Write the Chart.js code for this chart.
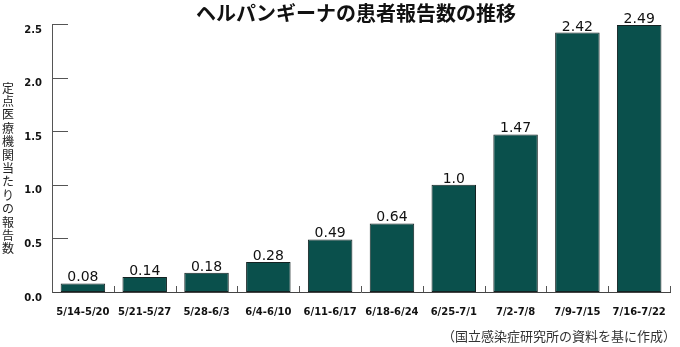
<!DOCTYPE html>
<html>
<head>
<meta charset="utf-8">
<style>
  html, body { margin: 0; padding: 0; background: #fff; }
  #wrap { width: 680px; height: 347px; position: relative; }
</style>
</head>
<body>
<div id="wrap"><canvas id="chart" width="680" height="347"></canvas></div>
<script src="https://cdn.jsdelivr.net/npm/chart.js@4/dist/chart.umd.min.js"></script>
<script>
// ---------- data ----------
const weeks = ['5/14-5/20', '5/21-5/27', '5/28-6/3', '6/4-6/10', '6/11-6/17',
               '6/18-6/24', '6/25-7/1', '7/2-7/8', '7/9-7/15', '7/16-7/22'];
const reports = [0.08, 0.14, 0.18, 0.28, 0.49, 0.64, 1.0, 1.47, 2.42, 2.49];
const reportLabels = ['0.08', '0.14', '0.18', '0.28', '0.49', '0.64', '1.0', '1.47', '2.42', '2.49'];
const yTickValues = [0, 0.5, 1.0, 1.5, 2.0, 2.5];

const titleText = 'ヘルパンギーナの患者報告数の推移';
const yTitleText = '定点医療機関当たりの報告数';
const sourceText = '（国立感染症研究所の資料を基に作成）';

// ---------- decorations ----------
const decor = {
  id: 'decor',
  afterDraw(chart) {
    const { ctx, chartArea, scales } = chart;
    const x = scales.x, y = scales.y;
    ctx.save();

    // short inward ticks on the y axis
    ctx.strokeStyle = '#555';
    ctx.lineWidth = 1;
    yTickValues.forEach(v => {
      if (v === 0) return;
      const py = Math.round(y.getPixelForValue(v)) + 0.5;
      ctx.beginPath();
      ctx.moveTo(chartArea.left, py);
      ctx.lineTo(chartArea.left + 16, py);
      ctx.stroke();
    });

    // small upward ticks at category boundaries
    const step = x.getPixelForValue(1) - x.getPixelForValue(0);
    weeks.forEach((w, i) => {
      const px = Math.round(x.getPixelForValue(i) + step / 2) + 0.5;
      ctx.beginPath();
      ctx.moveTo(px, chartArea.bottom);
      ctx.lineTo(px, chartArea.bottom - 6);
      ctx.stroke();
    });

    // value labels above bars
    const meta = chart.getDatasetMeta(0);
    ctx.fillStyle = '#111';
    ctx.font = '500 14px "DejaVu Sans", sans-serif';
    ctx.textAlign = 'center';
    ctx.textBaseline = 'alphabetic';
    meta.data.forEach((bar, i) => {
      ctx.fillText(reportLabels[i], bar.x, bar.y - 2);
    });

    // title
    ctx.fillStyle = '#111';
    ctx.font = 'bold 20px "Noto Sans CJK JP", sans-serif';
    ctx.textBaseline = 'middle';
    ctx.fillText(titleText, 356, 13);

    // vertical y title, one character per line
    ctx.fillStyle = '#222';
    ctx.font = '12px "Noto Sans CJK JP", sans-serif';
    const chars = Array.from(yTitleText);
    chars.forEach((c, i) => {
      ctx.fillText(c, 8, 88 + i * 13.4);
    });

    // source note
    ctx.fillStyle = '#333';
    ctx.font = '13px "Noto Sans CJK JP", sans-serif';
    ctx.textAlign = 'right';
    ctx.fillText(sourceText, 676, 336);

    ctx.restore();
  }
};

// ---------- chart ----------
const ctx = document.getElementById('chart').getContext('2d');
const chart = new Chart(ctx, {
  type: 'bar',
  data: {
    labels: weeks,
    datasets: [{
      data: reports,
      backgroundColor: '#0a504c',
      borderColor: '#142222',
      borderWidth: 1,
      borderSkipped: false,
      categoryPercentage: 1.0,
      barPercentage: 0.72
    }]
  },
  options: {
    responsive: false,
    animation: false,
    devicePixelRatio: 1,
    layout: { padding: { left: 0, right: 4, top: 24, bottom: 15 } },
    plugins: {
      legend: { display: false },
      tooltip: { enabled: false }
    },
    scales: {
      x: {
        grid: { display: false, drawTicks: false },
        border: { display: true, color: '#444', width: 1 },
        ticks: {
          color: '#111',
          padding: 14,
          maxRotation: 0,
          autoSkip: false,
          font: { family: '"DejaVu Sans", sans-serif', size: 10, weight: 'bold' }
        },
        afterFit(s) { s.height = 40; }
      },
      y: {
        min: 0,
        max: 2.5,
        grid: { display: false, drawTicks: false },
        border: { display: true, color: '#555', width: 1 },
        ticks: {
          stepSize: 0.5,
          color: '#111',
          padding: 10,
          labelOffset: 6,
          callback: v => v.toFixed(1),
          font: { family: '"DejaVu Sans", sans-serif', size: 10, weight: 'bold' }
        },
        afterFit(s) { s.width = 52; }
      }
    }
  },
  plugins: [decor]
});
</script>
</body>
</html>
